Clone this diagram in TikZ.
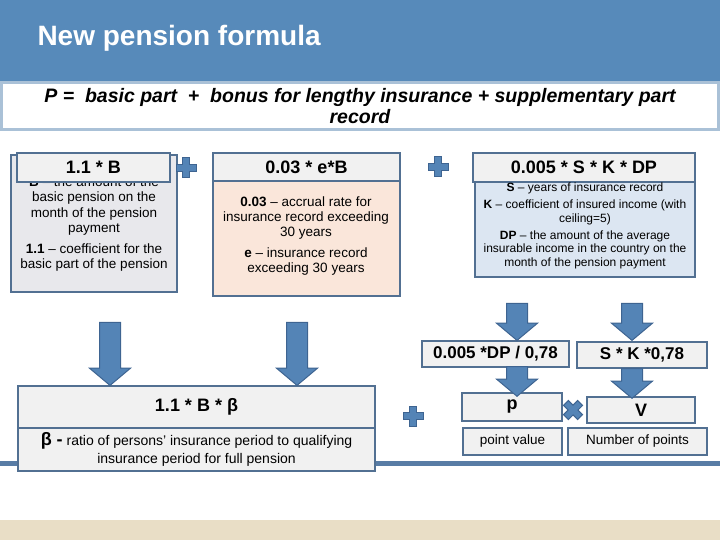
\documentclass[tikz,border=0pt]{standalone}
\usepackage{fontspec}
\setmainfont{Liberation Sans}
\usetikzlibrary{shapes.arrows,positioning}

\definecolor{headblue}{RGB}{87,138,186}
\definecolor{framecol}{RGB}{170,193,215}
\definecolor{boxline}{RGB}{82,112,146}
\definecolor{titlegray}{RGB}{241,241,241}
\definecolor{graybody}{RGB}{232,232,236}
\definecolor{peachbody}{RGB}{250,230,218}
\definecolor{bluebody}{RGB}{220,230,242}
\definecolor{arrowblue}{RGB}{84,132,182}
\definecolor{arrowline}{RGB}{62,100,145}
\definecolor{lineblue}{RGB}{88,124,165}
\definecolor{beige}{RGB}{233,222,198}

\tikzset{
  titlebox/.style={draw=boxline, line width=1.5pt, fill=titlegray, inner sep=0pt,
    font=\fontsize{18}{21}\selectfont\bfseries},
  bodybox/.style={draw=boxline, line width=1.5pt, inner sep=0pt},
  smallbox/.style={draw=boxline, line width=1.5pt, fill=titlegray, inner sep=0pt,
    font=\fontsize{13.5}{15}\selectfont},
  downarrow/.style={single arrow, shape border rotate=270, draw=arrowline, line width=1pt,
    fill=arrowblue, minimum width=40pt, single arrow head extend=10pt,
    single arrow tip angle=100, inner sep=10pt},
  plussign/.pic={
    \filldraw[fill=arrowblue, draw=arrowline, line width=1pt]
      (-3.5,-10) -- (3.5,-10) -- (3.5,-3.5) -- (10,-3.5) -- (10,3.5) -- (3.5,3.5)
      -- (3.5,10) -- (-3.5,10) -- (-3.5,3.5) -- (-10,3.5) -- (-10,-3.5) -- (-3.5,-3.5) -- cycle;
  }
}

\begin{document}
\begin{tikzpicture}[x=1pt, y=-1pt]
    \useasboundingbox (0,0) rectangle (720,540);

    % background bands
    \fill[headblue] (0,0) rectangle (720,82);
    \fill[beige] (0,520) rectangle (720,540);
    \draw[lineblue, line width=5pt] (0,463) -- (720,463);

    \node (title) [anchor=west, text=white, font=\fontsize{28}{30}\selectfont\bfseries] at (34,38) {New pension formula};
    \node (formula) [draw=framecol, line width=3pt, fill=white, minimum width=717pt, minimum height=47pt, align=center,
      font=\fontsize{19.5}{21}\selectfont\bfseries\itshape] at (360,106)
      {P =\ \ basic part\ \ +\ \ bonus for lengthy insurance + supplementary part\\record};

    % basic part
    \node (b1) [bodybox, fill=graybody, minimum width=166pt, minimum height=137pt] at (94,223.5) {};
    \node (b1txt) [align=center, font=\fontsize{13.5}{15.5}\selectfont] at (94,224)
      {\textbf{B} -- the amount of the\\basic pension on the\\month of the pension\\payment\\[5pt]
       \textbf{1.1} -- coefficient for the\\basic part of the pension};
    \node (b1t) [titlebox, minimum width=153pt, minimum height=29pt] at (93.5,167.5) {1.1 * B};

    % bonus
    \node (b2) [bodybox, fill=peachbody, minimum width=187pt, minimum height=143pt] at (306.5,224.5) {};
    \node (b2t) [titlebox, minimum width=187pt, minimum height=28pt] at (306.5,167) {0.03 * e*B};
    \node (b2txt) [align=center, font=\fontsize{13.5}{15}\selectfont] at (306,236)
      {\textbf{0.03} -- accrual rate for\\insurance record exceeding\\30 years\\[6pt]
       \textbf{e} -- insurance record\\exceeding 30 years};

    % supplementary part
    \node (b3) [bodybox, fill=bluebody, minimum width=220pt, minimum height=95pt] at (585,229.5) {};
    \node (b3t) [titlebox, minimum width=222pt, minimum height=29pt] at (584,167.5) {0.005 * S * K * DP};
    \node (b3txt) [align=center, font=\fontsize{12}{13.5}\selectfont] at (585,226)
      {\textbf{S} -- years of insurance record\\[3.5pt]
       \textbf{K} -- coefficient of insured income (with\\ceiling=5)\\[3.5pt]
       \textbf{DP} -- the amount of the average\\insurable income in the country on the\\month of the pension payment};

    \pic at (186,168) {plussign};
    \pic at (438,167) {plussign};

    % reduced basic part
    \node (beta) [titlebox, fill=titlegray, minimum width=357pt, minimum height=42pt] at (196.5,407) {1.1 * B * β};
    \node (betadef) [smallbox, minimum width=357pt, minimum height=43pt, align=center,
      font=\fontsize{14}{18}\selectfont] at (196.5,449.5)
      {{\fontsize{18}{18}\selectfont\textbf{β -}} ratio of persons' insurance period to qualifying\\insurance period for full pension};
    \node (aL) [downarrow, minimum height=63pt] at (110,349.5) {};
    \node (aM) [downarrow, minimum height=63pt] at (297,349.5) {};

    \pic at (413,416) {plussign};

    % points
    \node (dp) [titlebox, minimum width=147pt, minimum height=26pt, font=\fontsize{17}{20}\selectfont\bfseries] at (495.5,354) {0.005 *DP / 0,78};
    \node (skv) [titlebox, minimum width=130pt, minimum height=26pt, font=\fontsize{17}{20}\selectfont\bfseries] at (642,355) {S * K *0,78};
    \node (p) [titlebox, minimum width=100pt, minimum height=28pt, text height=9.5pt, text depth=4pt] at (512,407) {p};
    \node (v) [titlebox, minimum width=108pt, minimum height=26pt] at (641,410) {V};
    \node (pval) [smallbox, minimum width=99pt, minimum height=27pt] at (512.5,441.5) {point value};
    \node (vnum) [smallbox, minimum width=139pt, minimum height=27pt] at (637.5,441.5) {Number of points};

    \node (aR1) [downarrow, minimum height=37pt] at (517,317.5) {};
    \node (aR2) [downarrow, minimum height=37pt] at (632,317.5) {};
    \node (aR3) [downarrow, minimum height=26pt] at (517,377) {};
    \node (aR4) [downarrow, minimum height=28pt] at (632,379) {};

    \pic[rotate=45] at (573,410) {plussign};
\end{tikzpicture}
\end{document}
